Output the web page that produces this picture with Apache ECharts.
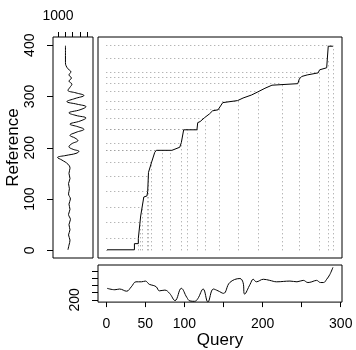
<!DOCTYPE html>
<html>
<head>
<meta charset="utf-8">
<script src="https://cdn.jsdelivr.net/npm/echarts@6/dist/echarts.min.js"></script>
<style>
  html, body { margin: 0; padding: 0; background: #fff; }
  #chart { width: 356px; height: 350px; }
</style>
</head>
<body>
<div id="chart"></div>
<script>
// warping path (query index, reference index)
var pathQ = [1, 36, 36, 41, 41, 44, 48, 52, 53, 54, 58, 62, 64, 84, 94, 96, 99, 116, 117, 120, 126, 132, 136, 143, 145, 149, 168, 175, 186, 194, 203, 212, 213, 245, 247, 250, 257, 271, 273, 282, 284, 284, 290];
var pathR = [1, 1, 13, 13, 23, 67, 104, 106, 115, 152, 172, 191, 195, 195, 201, 210, 235, 235, 249, 251, 259, 266, 272, 274, 276, 288, 292, 297, 303, 309, 316, 322, 325, 325, 334, 339, 342, 346, 352, 356, 357, 398, 398];

// match lines drawn at these path points
var matchQ = [1, 41, 44, 46, 53, 54, 58, 72, 82, 96, 104, 116, 126, 145, 169, 194, 225, 247, 272, 284, 290];
var matchR = [1, 24, 55, 84, 116, 145, 172, 195, 195, 208, 236, 237, 257, 276, 291, 310, 325, 337, 348, 374, 399];

// reference series (plotted vertically on the left)
var refIdx = [1, 10, 20, 30, 40, 50, 60, 70, 80, 90, 100, 110, 120, 130, 140, 150, 160, 168, 176, 181, 185, 189, 193, 197, 202, 208, 214, 219, 224, 230, 236, 241, 246, 252, 258, 263, 268, 274, 280, 285, 290, 296, 302, 307, 312, 318, 324, 330, 336, 342, 348, 354, 360, 366, 380, 399];
var refVal = [1068, 1075, 1082, 1072, 1082, 1075, 1085, 1072, 1082, 1075, 1085, 1072, 1078, 1072, 1082, 1075, 1082, 1068, 1027, 997, 1055, 1123, 1143, 1102, 1075, 1095, 1136, 1116, 1082, 1123, 1177, 1136, 1082, 1150, 1191, 1123, 1075, 1150, 1191, 1130, 1061, 1116, 1177, 1123, 1068, 1082, 1095, 1075, 1092, 1075, 1088, 1068, 1055, 1051, 1051, 1051];
var refTicks = [1000, 1050, 1100, 1150, 1200];
var refLabels = [1000];

// query series (plotted along the bottom)
var queryIdx = [1, 11, 17, 26, 32, 38, 45, 50, 55, 60, 64, 68, 75, 81, 88, 96, 103, 107, 113, 117, 124, 130, 137, 143, 150, 158, 171, 175, 177, 184, 188, 192, 201, 209, 218, 235, 244, 252, 258, 263, 269, 274, 278, 282, 286, 290];
var queryVal = [232, 228, 230, 224, 236, 250, 250, 252, 243, 240, 236, 225, 227, 218, 198, 232, 207, 197, 196, 203, 230, 194, 230, 225, 218, 248, 259, 248, 216, 243, 257, 250, 257, 254, 250, 252, 250, 254, 248, 250, 254, 248, 248, 257, 270, 290];
var queryTicks = [200, 220, 240, 260, 280];
var queryLabels = [200];

var xTicks = [0, 50, 100, 150, 200, 250, 300];
var xLabels = [0, 50, 100, 200, 300];
var yTicks = [0, 100, 200, 300, 400];

var font = 'Liberation Sans, Arial, sans-serif';
var chart = echarts.init(document.getElementById('chart'), null, { renderer: 'canvas' });

var pathData = pathQ.map(function (q, i) { return [q, pathR[i]]; });
var matchLines = [];
matchQ.forEach(function (q, i) {
  matchLines.push({ coords: [[q, 0], [q, matchR[i]]] });
  matchLines.push({ coords: [[0, matchR[i]], [q, matchR[i]]] });
});

function plain(v) { return String(v); }
var txt = { color: '#000', fontFamily: font, fontSize: 14, formatter: plain };
var titleTxt = { color: '#000', fontFamily: font, fontSize: 17 };
var noLine = { show: false, onZero: false };

var option = {
  animation: false,
  grid: [
    { left: 98, top: 37, width: 244, height: 221, show: true, borderColor: '#000', borderWidth: 1 },
    { left: 53, top: 37, width: 40, height: 221, show: true, borderColor: '#000', borderWidth: 1 },
    { left: 98, top: 265, width: 244, height: 38, show: true, borderColor: '#000', borderWidth: 1 }
  ],
  xAxis: [
    { gridIndex: 0, type: 'value', min: -10.6, max: 301.6, show: false, axisLine: noLine },
    {
      gridIndex: 1, type: 'value', position: 'top', min: 966, max: 1239,
      axisLine: noLine, splitLine: { show: false },
      axisTick: { show: true, inside: false, length: 5, customValues: refTicks, lineStyle: { color: '#000' } },
      axisLabel: Object.assign({ customValues: refLabels, margin: 14 }, txt)
    },
    {
      gridIndex: 2, type: 'value', position: 'bottom', min: -10.6, max: 301.6,
      axisLine: noLine, splitLine: { show: false },
      axisTick: { show: true, length: 5, customValues: xTicks, lineStyle: { color: '#000' } },
      axisLabel: Object.assign({ customValues: xLabels, margin: 15 }, txt),
      name: 'Query', nameLocation: 'middle', nameGap: 29, nameTextStyle: titleTxt
    }
  ],
  yAxis: [
    { gridIndex: 0, type: 'value', min: -15, max: 416, show: false, axisLine: noLine },
    {
      gridIndex: 1, type: 'value', position: 'left', min: -15, max: 416,
      axisLine: noLine, splitLine: { show: false },
      axisTick: { show: true, length: 6, customValues: yTicks, lineStyle: { color: '#000' } },
      axisLabel: Object.assign({ customValues: yTicks, rotate: 90, margin: 16 }, txt),
      name: 'Reference', nameLocation: 'middle', nameGap: 30, nameRotate: 90, nameTextStyle: titleTxt
    },
    {
      gridIndex: 2, type: 'value', position: 'left', min: 193.8, max: 296.5,
      axisLine: noLine, splitLine: { show: false },
      axisTick: { show: true, length: 6, customValues: queryTicks, lineStyle: { color: '#000' } },
      axisLabel: Object.assign({ customValues: queryLabels, rotate: 90, margin: 16 }, txt)
    }
  ],
  series: [
    {
      type: 'lines', coordinateSystem: 'cartesian2d', xAxisIndex: 0, yAxisIndex: 0,
      data: matchLines, silent: true,
      lineStyle: { color: '#999', width: 1, type: [1, 3], opacity: 1 }
    },
    {
      type: 'line', xAxisIndex: 0, yAxisIndex: 0, data: pathData,
      showSymbol: false, lineStyle: { color: '#000', width: 1 }
    },
    {
      type: 'line', xAxisIndex: 1, yAxisIndex: 1,
      data: refVal.map(function (v, i) { return [v, refIdx[i]]; }),
      showSymbol: false, smooth: 0.4, lineStyle: { color: '#000', width: 1 }
    },
    {
      type: 'line', xAxisIndex: 2, yAxisIndex: 2,
      data: queryVal.map(function (v, i) { return [queryIdx[i], v]; }),
      showSymbol: false, smooth: 0.4, lineStyle: { color: '#000', width: 1 }
    }
  ]
};
chart.setOption(option);
</script>
</body>
</html>
